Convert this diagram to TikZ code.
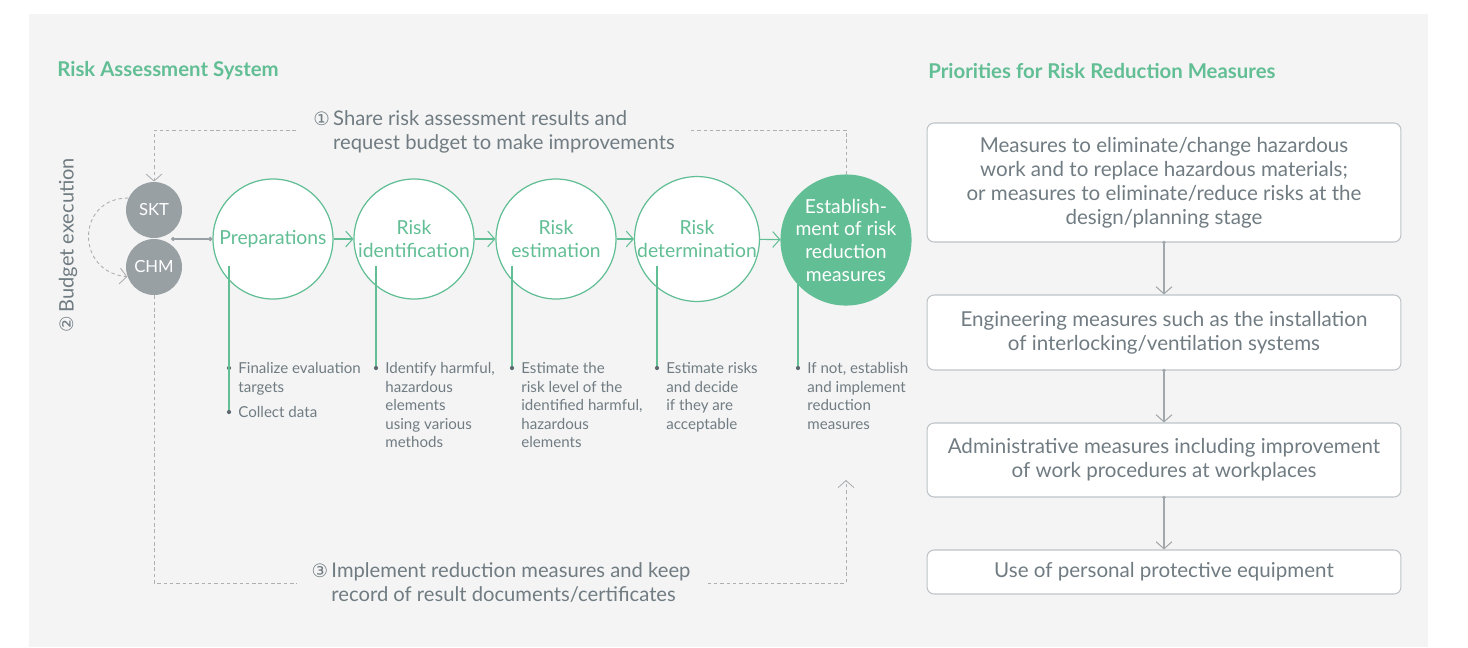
\documentclass[tikz,border=0pt]{standalone}
\usepackage{fontspec}
\setmainfont{Lato}
\newfontfamily\numfont{DejaVu Sans}
\usetikzlibrary{arrows.meta,positioning,calc}

\definecolor{skgreen}{RGB}{98,190,148}
\definecolor{sktext}{RGB}{112,124,130}
\definecolor{corpgray}{RGB}{152,160,164}
\definecolor{panel}{RGB}{244,244,244}
\definecolor{boxline}{RGB}{190,196,200}
\definecolor{dashgray}{RGB}{172,176,178}
\definecolor{dotgray}{RGB}{95,106,112}

\begin{document}
\begin{tikzpicture}[x=0.02cm, y=-0.02cm, >={Straight Barb[length=4pt,width=9pt]},
  stage/.style={circle, draw=skgreen, line width=0.7pt, fill=white, minimum size=2.4cm,
                inner sep=0pt, align=center, text=skgreen, font=\fontsize{11}{12.9}\selectfont},
  corp/.style={circle, fill=corpgray, minimum size=1.12cm, inner sep=0pt, text=white,
               font=\fontsize{9.5}{11}\selectfont},
  prio/.style={draw=boxline, line width=0.6pt, fill=white, rounded corners=4pt,
               minimum width=9.48cm, align=center, text=sktext, font=\fontsize{11.7}{13.6}\selectfont},
  note/.style={anchor=north west, align=left, inner sep=0pt, text=sktext,
               font=\fontsize{8.6}{10.6}\selectfont},
  bul/.style={circle, fill=dotgray, inner sep=0pt, minimum size=2.4pt},
  msg/.style={fill=panel, inner xsep=0.3cm, inner ysep=1pt, text=sktext,
              font=\fontsize{11.5}{13.6}\selectfont},
  ttl/.style={anchor=west, inner sep=0pt, text=skgreen, font=\bfseries\fontsize{11.6}{13}\selectfont},
  feed/.style={dashgray, line width=0.5pt, dash pattern=on 2pt off 1.6pt},
  flow/.style={->, skgreen, line width=0.6pt},
  stem/.style={skgreen, line width=0.6pt},
  down/.style={->, boxline!85!black, line width=0.6pt}]

  % panel
  \useasboundingbox (0,0) rectangle (1468,647);
  \fill[panel] (29,14) rectangle (1428,647);

  \node[ttl] (lefttitle)  at (57,71)  {Risk Assessment System};
  \node[ttl] (righttitle) at (928,71) {Priorities for Risk Reduction Measures};

  % process chain
  \node[corp] (skt) at (154,210) {SKT};
  \node[corp] (chm) at (154,267) {CHM};
  \coordinate (notch) at (171,239);

  \node[stage] (prep)  at (273,239) {Preparations};
  \node[stage] (ident) at (414,239) {Risk\\identification};
  \node[stage] (estim) at (556,239) {Risk\\estimation};
  \node[stage] (deter) at (697,239) {Risk\\determination};
  \node[stage, fill=skgreen, draw=skgreen, text=white] (estab) at (846,240)
    {Establish-\\ment of risk\\reduction\\measures};

  \draw[{Circle[length=2.4pt]}-{Circle[length=2.4pt]}, corpgray, line width=0.6pt] (prep.west) -- (notch);
  \draw[flow] (prep) -- (ident);
  \draw[flow] (ident) -- (estim);
  \draw[flow] (estim) -- (deter);
  \draw[flow] (deter) -- (estab);

  % bullets under the stages
  \node[bul] (b1) at (229,368) {};
  \node[bul] (b2) at (229,412) {};
  \node[bul] (b3) at (376,368) {};
  \node[bul] (b4) at (512,368) {};
  \node[bul] (b5) at (657,368) {};
  \node[bul] (b6) at (798,368) {};
  \draw[stem] (prep.center)  ++(-44,27) -- (b2);
  \draw[stem] (ident.center) ++(-38,27) -- (b3);
  \draw[stem] (estim.center) ++(-44,27) -- (b4);
  \draw[stem] (deter.center) ++(-40,27) -- (b5);
  \draw[stem, white] (estab.center) ++(-48,26) -- ++(0,25);
  \draw[stem] (estab.center) ++(-48,26) -- (b6);

  \node[note] at ([xshift=0.18cm, yshift=0.12cm]b1.center) {Finalize evaluation\\targets};
  \node[note] at ([xshift=0.18cm, yshift=0.12cm]b2.center) {Collect data};
  \node[note] at ([xshift=0.18cm, yshift=0.12cm]b3.center) {Identify harmful,\\hazardous\\elements\\using various\\methods};
  \node[note] at ([xshift=0.18cm, yshift=0.12cm]b4.center) {Estimate the\\risk level of the\\identified harmful,\\hazardous\\elements};
  \node[note] at ([xshift=0.18cm, yshift=0.12cm]b5.center) {Estimate risks\\and decide\\if they are\\acceptable};
  \node[note] at ([xshift=0.18cm, yshift=0.12cm]b6.center) {If not, establish\\and implement\\reduction\\measures};

  % feedback loops
  \draw[feed, ->] (estab.north) -- (estab.north |- 0,130) -| (skt.north);
  \node[msg] (share) at (494,133)
    {\begin{tabular}{@{}l@{\,}l@{}}{\numfont\fontsize{10.5}{12}\selectfont ①}&Share risk assessment results and\\&request budget to make improvements\end{tabular}};

  \draw[feed, ->] (chm.south) |- (estab.south |- 0,583) -- ([yshift=-0.2cm]estab.south |- 0,470);
  \node[msg] (keep) at (501,585)
    {\begin{tabular}{@{}l@{\,}l@{}}{\numfont\fontsize{10.5}{12}\selectfont ③}&Implement reduction measures and keep\\&record of result documents/certificates\end{tabular}};

  \draw[feed, ->] (skt.155) to[out=180, in=175, looseness=1.7] (chm.200);
  \node[rotate=90, text=sktext, font=\fontsize{11.4}{13}\selectfont] (budget) at (68,245)
    {{\numfont\fontsize{10.5}{12}\selectfont ②}\,Budget execution};

  % priorities
  \node[prio, minimum height=2.38cm] (p1) at (1164,182.5)
    {Measures to eliminate/change hazardous\\work and to replace hazardous materials;\\or measures to eliminate/reduce risks at the\\design/planning stage};
  \node[prio, minimum height=1.5cm] (p2) at (1164,332.5)
    {Engineering measures such as the installation\\of interlocking/ventilation systems};
  \node[prio, minimum height=1.48cm] (p3) at (1164,460)
    {Administrative measures including improvement\\of work procedures at workplaces};
  \node[prio, minimum height=0.88cm] (p4) at (1164,572)
    {Use of personal protective equipment};

  \foreach \a/\b in {p1/p2, p2/p3, p3/p4} {
    \draw[down] (\a) -- (\b);
    \fill[boxline!85!black] (\a.south) circle[radius=1.1pt];
  }
\end{tikzpicture}
\end{document}
